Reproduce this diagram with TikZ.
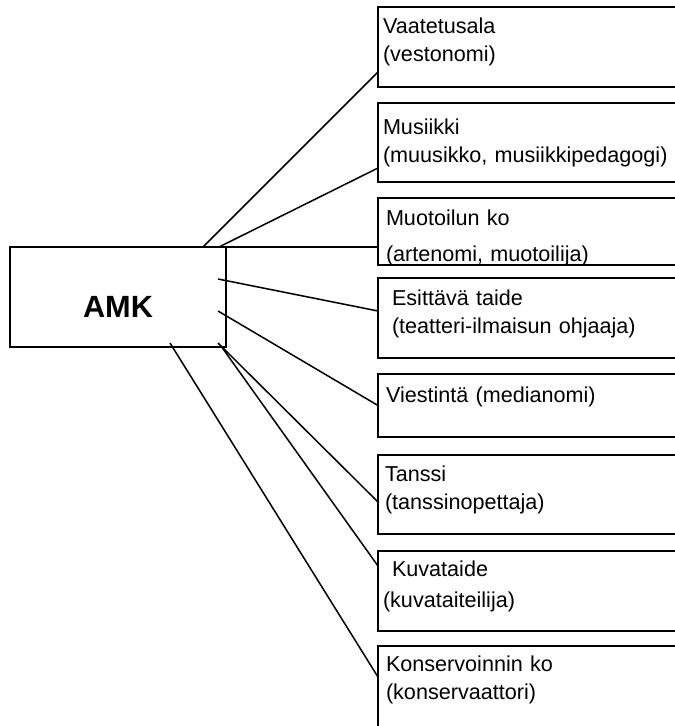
\documentclass[tikz,border=0pt]{standalone}
\usepackage{fontspec}
\setmainfont{Liberation Sans}
\usetikzlibrary{positioning}

\newcommand{\fieldfont}{\fontsize{21.6}{28.5}\selectfont}
\newcommand{\amkfont}{\fontsize{30.7}{36}\selectfont\bfseries}

\begin{document}
\begin{tikzpicture}[
		x=1pt,
		y=-1pt,
		line width=1.5pt,
		main node/.style={draw, rectangle, line width=2pt, outer sep=0pt,
			minimum width=216pt, minimum height=100pt,
			text height=40pt, text depth=0pt, font=\amkfont},
		field node/.style={draw, rectangle, line width=2pt, outer sep=0pt,
			text width=320pt, inner xsep=5pt, inner ysep=0pt,
			align=left, font=\fieldfont}
		]
		\useasboundingbox (0,0) rectangle (675,726);
		\clip (0,0) rectangle (675,726);

		\node[main node, anchor=north west] (amk) at (10,247) {AMK};

		\node[field node, anchor=north west, text height=26pt, text depth=54pt] (vaat) at (378,7)
			{Vaatetusala\\(vestonomi)};
		\node[field node, text height=31pt, text depth=48pt] (mus) [below=16pt of vaat]
			{Musiikki\\(muusikko, musiikkipedagogi)};
		\node[field node, text height=27pt, text depth=40pt] (muo) [below=16pt of mus]
			{\hspace*{3pt}Muotoilun ko\\[7.5pt]\hspace*{3pt}(artenomi, muotoilija)};
		\node[field node, text height=27pt, text depth=53pt] (esi) [below=13pt of muo]
			{\hspace*{9pt}Esittävä taide\\\hspace*{9pt}(teatteri-ilmaisun ohjaaja)};
		\node[field node, text height=28pt, text depth=35pt] (vie) [below=16pt of esi]
			{\hspace*{3pt}Viestintä (medianomi)};
		\node[field node, text height=26pt, text depth=53pt] (tan) [below=18pt of vie]
			{\hspace*{2pt}Tanssi\\\hspace*{2pt}(tanssinopettaja)};
		\node[field node, text height=25pt, text depth=55pt] (kuv) [below=17pt of tan]
			{\hspace*{9pt}Kuvataide\\[3pt](kuvataiteilija)};
		\node[field node, text height=25pt, text depth=80pt] (kon) [below=15pt of kuv]
			{\hspace*{3pt}Konservoinnin ko\\\hspace*{3pt}(konservaattori)};

		% where the lines leave the AMK box
		\coordinate (amk-1) at ([xshift=-23pt]amk.north east);
		\coordinate (amk-2) at ([xshift=-7pt]amk.north east);
		\coordinate (amk-3) at ([shift={(-8pt,-32pt)}]amk.north east);
		\coordinate (amk-4) at ([shift={(-8pt,-64pt)}]amk.north east);
		\coordinate (amk-5) at ([shift={(-8pt,4pt)}]amk.south east);
		\coordinate (amk-6) at ([shift={(-5pt,1pt)}]amk.south east);
		\coordinate (amk-7) at ([shift={(-56pt,4pt)}]amk.south east);

		\path[draw]
		(amk-1) edge ([yshift=15pt]vaat.south west)
		(amk-2) edge ([yshift=-65pt]mus.north west)
		(amk-2) edge ([yshift=-49pt]muo.north west)
		(amk-3) edge ([yshift=-33pt]esi.north west)
		(amk-4) edge (vie.west)
		(amk-5) edge ([yshift=-47pt]tan.north west)
		(amk-6) edge ([yshift=-15pt]kuv.north west)
		(amk-7) edge ([yshift=-31pt]kon.north west);
	\end{tikzpicture}
\end{document}
